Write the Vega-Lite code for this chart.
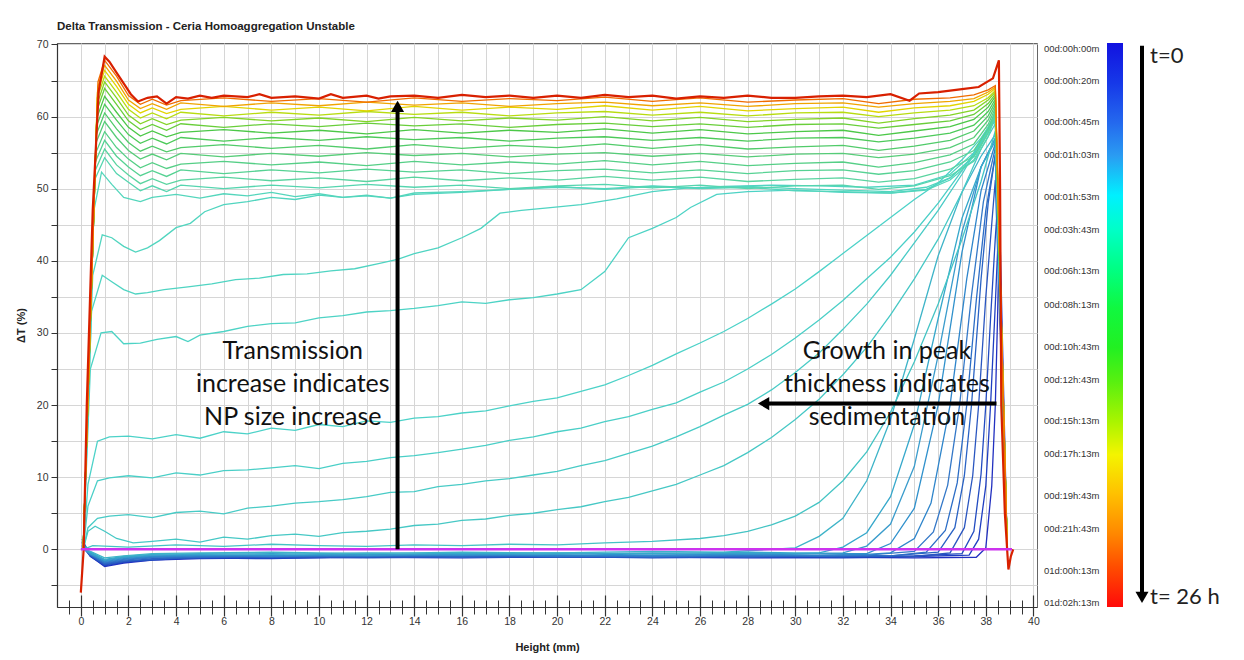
{
"$schema":"https://vega.github.io/schema/vega-lite/v6.json",
"padding":{"left":14,"top":21,"right":0,"bottom":0},
"background":"white",
"title":{"text":"Delta Transmission - Ceria Homoaggregation Unstable","anchor":"start","frame":"group","font":"Liberation Sans, Arial, sans-serif","fontSize":11.5,"fontWeight":"bold","color":"#222","offset":6},
"bounds":"flush",
"spacing":3,
"config":{"view":{"stroke":"#666"},"axis":{"labelFont":"Liberation Sans, Arial, sans-serif","titleFont":"Liberation Sans, Arial, sans-serif","labelColor":"#333","titleColor":"#222","labelFontSize":10.5}},
"datasets":{
"curves":[
{"c":0,"x":0,"y":0},{"c":0,"x":39.1,"y":0},
{"c":1,"x":0.05,"y":1.0},{"c":1,"x":0.4,"y":-0.9},{"c":1,"x":1,"y":-2.4},{"c":1,"x":1.8,"y":-1.9},{"c":1,"x":3,"y":-1.5},{"c":1,"x":5,"y":-1.3},{"c":1,"x":8,"y":-1.2},{"c":1,"x":12,"y":-1.1},{"c":1,"x":16,"y":-1.2},{"c":1,"x":20,"y":-1.0},{"c":1,"x":24,"y":-1.1},{"c":1,"x":28,"y":-1.2},{"c":1,"x":32,"y":-1.1},{"c":1,"x":35,"y":-1.2},{"c":1,"x":37.6,"y":-1.1},{"c":1,"x":38,"y":0.2},{"c":1,"x":38.25,"y":8.8},{"c":1,"x":38.4,"y":20},{"c":1,"x":38.5,"y":33},{"c":1,"x":38.58,"y":46},{"c":1,"x":38.9,"y":0},
{"c":2,"x":0.05,"y":0.6},{"c":2,"x":0.4,"y":-1.0},{"c":2,"x":1,"y":-2.3},{"c":2,"x":1.8,"y":-1.8},{"c":2,"x":3,"y":-1.4},{"c":2,"x":5,"y":-1.2},{"c":2,"x":8,"y":-1.3},{"c":2,"x":12,"y":-1.0},{"c":2,"x":16,"y":-1.1},{"c":2,"x":20,"y":-1.1},{"c":2,"x":24,"y":-0.9},{"c":2,"x":28,"y":-1.1},{"c":2,"x":32,"y":-1.2},{"c":2,"x":35,"y":-1.0},{"c":2,"x":37.3,"y":-0.8},{"c":2,"x":37.7,"y":1.4},{"c":2,"x":38,"y":8.8},{"c":2,"x":38.2,"y":20},{"c":2,"x":38.4,"y":34},{"c":2,"x":38.55,"y":45.5},{"c":2,"x":38.9,"y":0},
{"c":3,"x":0.05,"y":1.4},{"c":3,"x":0.4,"y":-0.8},{"c":3,"x":1,"y":-2.2},{"c":3,"x":1.8,"y":-1.7},{"c":3,"x":3,"y":-1.5},{"c":3,"x":5,"y":-1.1},{"c":3,"x":8,"y":-1.2},{"c":3,"x":12,"y":-1.1},{"c":3,"x":16,"y":-0.9},{"c":3,"x":20,"y":-1.0},{"c":3,"x":24,"y":-1.2},{"c":3,"x":28,"y":-1.0},{"c":3,"x":32,"y":-1.1},{"c":3,"x":35,"y":-0.9},{"c":3,"x":37,"y":-0.6},{"c":3,"x":37.5,"y":2.5},{"c":3,"x":37.8,"y":10.4},{"c":3,"x":38,"y":20},{"c":3,"x":38.2,"y":32},{"c":3,"x":38.4,"y":43.2},{"c":3,"x":38.5,"y":48},{"c":3,"x":38.9,"y":0},
{"c":4,"x":0.05,"y":0.4},{"c":4,"x":0.4,"y":-0.9},{"c":4,"x":1,"y":-2.1},{"c":4,"x":1.8,"y":-1.7},{"c":4,"x":3,"y":-1.3},{"c":4,"x":5,"y":-1.2},{"c":4,"x":8,"y":-1.0},{"c":4,"x":12,"y":-1.2},{"c":4,"x":16,"y":-1.0},{"c":4,"x":20,"y":-1.1},{"c":4,"x":24,"y":-1.0},{"c":4,"x":28,"y":-1.1},{"c":4,"x":32,"y":-0.9},{"c":4,"x":35,"y":-1.0},{"c":4,"x":36.5,"y":-0.5},{"c":4,"x":37.1,"y":3},{"c":4,"x":37.45,"y":10.2},{"c":4,"x":37.7,"y":20},{"c":4,"x":38,"y":35},{"c":4,"x":38.4,"y":51.2},{"c":4,"x":38.9,"y":0},
{"c":5,"x":0.05,"y":0.9},{"c":5,"x":0.4,"y":-0.7},{"c":5,"x":1,"y":-2.0},{"c":5,"x":1.8,"y":-1.6},{"c":5,"x":3,"y":-1.4},{"c":5,"x":5,"y":-1.0},{"c":5,"x":8,"y":-1.1},{"c":5,"x":12,"y":-0.9},{"c":5,"x":16,"y":-1.1},{"c":5,"x":20,"y":-0.9},{"c":5,"x":24,"y":-1.1},{"c":5,"x":28,"y":-0.9},{"c":5,"x":32,"y":-1.0},{"c":5,"x":34,"y":-0.9},{"c":5,"x":36,"y":-0.4},{"c":5,"x":36.7,"y":3},{"c":5,"x":37.1,"y":10.2},{"c":5,"x":37.4,"y":20},{"c":5,"x":37.8,"y":37.4},{"c":5,"x":38.1,"y":48},{"c":5,"x":38.4,"y":54.7},{"c":5,"x":38.9,"y":0},
{"c":6,"x":0.05,"y":0.5},{"c":6,"x":0.4,"y":-0.8},{"c":6,"x":1,"y":-1.9},{"c":6,"x":1.8,"y":-1.5},{"c":6,"x":3,"y":-1.2},{"c":6,"x":5,"y":-1.1},{"c":6,"x":8,"y":-0.9},{"c":6,"x":12,"y":-1.0},{"c":6,"x":16,"y":-0.8},{"c":6,"x":20,"y":-1.0},{"c":6,"x":24,"y":-0.9},{"c":6,"x":28,"y":-1.0},{"c":6,"x":32,"y":-0.8},{"c":6,"x":34,"y":-0.9},{"c":6,"x":35.5,"y":-0.4},{"c":6,"x":36.3,"y":2.6},{"c":6,"x":36.8,"y":9.2},{"c":6,"x":37.2,"y":20},{"c":6,"x":37.6,"y":34.5},{"c":6,"x":38,"y":47},{"c":6,"x":38.4,"y":54.7},{"c":6,"x":38.9,"y":0},
{"c":7,"x":0.05,"y":1.1},{"c":7,"x":0.4,"y":-0.6},{"c":7,"x":1,"y":-1.8},{"c":7,"x":1.8,"y":-1.4},{"c":7,"x":3,"y":-1.1},{"c":7,"x":5,"y":-0.9},{"c":7,"x":8,"y":-1.0},{"c":7,"x":12,"y":-0.8},{"c":7,"x":16,"y":-0.9},{"c":7,"x":20,"y":-0.8},{"c":7,"x":24,"y":-1.0},{"c":7,"x":28,"y":-0.8},{"c":7,"x":31,"y":-0.9},{"c":7,"x":33,"y":-0.8},{"c":7,"x":35,"y":-0.3},{"c":7,"x":35.8,"y":2.4},{"c":7,"x":36.4,"y":8.9},{"c":7,"x":36.9,"y":20},{"c":7,"x":37.4,"y":35.2},{"c":7,"x":37.9,"y":48.2},{"c":7,"x":38.4,"y":55.7},{"c":7,"x":38.9,"y":0},
{"c":8,"x":0.05,"y":0.3},{"c":8,"x":0.4,"y":-0.7},{"c":8,"x":1,"y":-1.7},{"c":8,"x":1.8,"y":-1.3},{"c":8,"x":3,"y":-1.0},{"c":8,"x":5,"y":-0.9},{"c":8,"x":8,"y":-0.8},{"c":8,"x":12,"y":-0.9},{"c":8,"x":16,"y":-0.7},{"c":8,"x":20,"y":-0.9},{"c":8,"x":24,"y":-0.8},{"c":8,"x":28,"y":-0.7},{"c":8,"x":31,"y":-0.8},{"c":8,"x":33,"y":-0.7},{"c":8,"x":34,"y":-0.5},{"c":8,"x":35,"y":1.5},{"c":8,"x":35.7,"y":6.4},{"c":8,"x":36.5,"y":20},{"c":8,"x":37.2,"y":37.5},{"c":8,"x":37.8,"y":49.7},{"c":8,"x":38.4,"y":56.3},{"c":8,"x":38.9,"y":0},
{"c":9,"x":0.05,"y":0.7},{"c":9,"x":0.4,"y":-0.5},{"c":9,"x":1,"y":-1.6},{"c":9,"x":1.8,"y":-1.2},{"c":9,"x":3,"y":-0.9},{"c":9,"x":5,"y":-0.8},{"c":9,"x":8,"y":-0.9},{"c":9,"x":12,"y":-0.7},{"c":9,"x":16,"y":-0.8},{"c":9,"x":20,"y":-0.6},{"c":9,"x":24,"y":-0.8},{"c":9,"x":28,"y":-0.7},{"c":9,"x":31,"y":-0.6},{"c":9,"x":33,"y":-0.6},{"c":9,"x":34,"y":0.8},{"c":9,"x":35,"y":5.7},{"c":9,"x":36,"y":20},{"c":9,"x":37,"y":41.2},{"c":9,"x":37.8,"y":53},{"c":9,"x":38.4,"y":57},{"c":9,"x":38.9,"y":0},
{"c":10,"x":0.05,"y":0.2},{"c":10,"x":0.4,"y":-0.6},{"c":10,"x":1,"y":-1.5},{"c":10,"x":1.8,"y":-1.1},{"c":10,"x":3,"y":-0.8},{"c":10,"x":5,"y":-0.7},{"c":10,"x":8,"y":-0.6},{"c":10,"x":12,"y":-0.8},{"c":10,"x":16,"y":-0.6},{"c":10,"x":20,"y":-0.7},{"c":10,"x":24,"y":-0.5},{"c":10,"x":28,"y":-0.6},{"c":10,"x":30,"y":-0.6},{"c":10,"x":32,"y":-0.5},{"c":10,"x":33,"y":0.45},{"c":10,"x":34,"y":3.5},{"c":10,"x":35,"y":11.5},{"c":10,"x":36,"y":26.9},{"c":10,"x":37,"y":44},{"c":10,"x":37.8,"y":53},{"c":10,"x":38.4,"y":57},{"c":10,"x":38.9,"y":0},
{"c":11,"x":0.05,"y":0.5},{"c":11,"x":0.4,"y":-0.4},{"c":11,"x":1,"y":-1.4},{"c":11,"x":1.8,"y":-1.0},{"c":11,"x":3,"y":-0.7},{"c":11,"x":5,"y":-0.6},{"c":11,"x":8,"y":-0.7},{"c":11,"x":12,"y":-0.5},{"c":11,"x":16,"y":-0.6},{"c":11,"x":20,"y":-0.5},{"c":11,"x":24,"y":-0.6},{"c":11,"x":28,"y":-0.4},{"c":11,"x":30,"y":-0.5},{"c":11,"x":31,"y":-0.5},{"c":11,"x":32,"y":0.3},{"c":11,"x":33,"y":2.3},{"c":11,"x":34,"y":7.3},{"c":11,"x":35,"y":17.3},{"c":11,"x":36,"y":32},{"c":11,"x":37,"y":45.9},{"c":11,"x":37.8,"y":53},{"c":11,"x":38.4,"y":56.6},{"c":11,"x":38.9,"y":0},
{"c":12,"x":0.05,"y":0.3},{"c":12,"x":0.4,"y":-0.3},{"c":12,"x":1,"y":-1.2},{"c":12,"x":1.8,"y":-0.9},{"c":12,"x":3,"y":-0.6},{"c":12,"x":5,"y":-0.5},{"c":12,"x":8,"y":-0.4},{"c":12,"x":12,"y":-0.6},{"c":12,"x":16,"y":-0.4},{"c":12,"x":20,"y":-0.5},{"c":12,"x":24,"y":-0.3},{"c":12,"x":27,"y":-0.4},{"c":12,"x":28,"y":-0.2},{"c":12,"x":30,"y":0.2},{"c":12,"x":31,"y":1.8},{"c":12,"x":32,"y":4.3},{"c":12,"x":33,"y":9.5},{"c":12,"x":34,"y":18},{"c":12,"x":35,"y":29.2},{"c":12,"x":36,"y":40.7},{"c":12,"x":37,"y":49.5},{"c":12,"x":37.8,"y":54.5},{"c":12,"x":38.4,"y":57.5},{"c":12,"x":38.9,"y":0},
{"c":13,"x":0.1,"y":0},{"c":13,"x":0.5,"y":0.5},{"c":13,"x":2,"y":0.3},{"c":13,"x":4,"y":0.6},{"c":13,"x":6,"y":0.4},{"c":13,"x":8,"y":0.7},{"c":13,"x":10,"y":0.5},{"c":13,"x":12,"y":0.4},{"c":13,"x":14,"y":0.6},{"c":13,"x":16,"y":0.5},{"c":13,"x":18,"y":0.7},{"c":13,"x":20,"y":0.6},{"c":13,"x":22,"y":0.9},{"c":13,"x":24,"y":1.1},{"c":13,"x":26,"y":1.5},{"c":13,"x":27,"y":1.9},{"c":13,"x":28,"y":2.5},{"c":13,"x":29,"y":3.4},{"c":13,"x":30,"y":4.6},{"c":13,"x":31,"y":6.5},{"c":13,"x":32,"y":9.5},{"c":13,"x":33,"y":13.5},{"c":13,"x":34,"y":19},{"c":13,"x":35,"y":26},{"c":13,"x":36,"y":34},{"c":13,"x":37,"y":43},{"c":13,"x":37.8,"y":51},{"c":13,"x":38.4,"y":58},{"c":13,"x":38.9,"y":0},
{"c":14,"x":0.1,"y":0},{"c":14,"x":0.3,"y":2.5},{"c":14,"x":0.6,"y":3.2},{"c":14,"x":1,"y":2.5},{"c":14,"x":1.5,"y":1.5},{"c":14,"x":2.2,"y":0.9},{"c":14,"x":3,"y":1.1},{"c":14,"x":4,"y":1.4},{"c":14,"x":5,"y":1.0},{"c":14,"x":6,"y":1.7},{"c":14,"x":7,"y":1.4},{"c":14,"x":8,"y":1.9},{"c":14,"x":9,"y":2.1},{"c":14,"x":10,"y":1.8},{"c":14,"x":11,"y":2.3},{"c":14,"x":12,"y":2.5},{"c":14,"x":13,"y":2.8},{"c":14,"x":14,"y":3.3},{"c":14,"x":15,"y":3.5},{"c":14,"x":16,"y":4.0},{"c":14,"x":17,"y":4.2},{"c":14,"x":18,"y":4.7},{"c":14,"x":19,"y":5},{"c":14,"x":20,"y":5.5},{"c":14,"x":21,"y":5.9},{"c":14,"x":22,"y":6.6},{"c":14,"x":23,"y":7.2},{"c":14,"x":24,"y":8.1},{"c":14,"x":25,"y":9},{"c":14,"x":26,"y":10.3},{"c":14,"x":27,"y":11.6},{"c":14,"x":28,"y":13.4},{"c":14,"x":29,"y":15.5},{"c":14,"x":30,"y":18},{"c":14,"x":31,"y":20.8},{"c":14,"x":32,"y":24.2},{"c":14,"x":33,"y":28},{"c":14,"x":34,"y":32.5},{"c":14,"x":35,"y":37.5},{"c":14,"x":36,"y":43},{"c":14,"x":37,"y":49.5},{"c":14,"x":37.8,"y":55.5},{"c":14,"x":38.4,"y":59},{"c":14,"x":38.9,"y":0},
{"c":15,"x":0.1,"y":0},{"c":15,"x":0.3,"y":3},{"c":15,"x":0.7,"y":4.3},{"c":15,"x":1.2,"y":4.6},{"c":15,"x":2,"y":4.8},{"c":15,"x":3,"y":4.4},{"c":15,"x":4,"y":5.1},{"c":15,"x":5,"y":5.3},{"c":15,"x":6,"y":4.9},{"c":15,"x":7,"y":5.7},{"c":15,"x":8,"y":6.0},{"c":15,"x":9,"y":6.4},{"c":15,"x":10,"y":6.6},{"c":15,"x":11,"y":6.9},{"c":15,"x":12,"y":7.3},{"c":15,"x":13,"y":7.9},{"c":15,"x":14,"y":8.0},{"c":15,"x":15,"y":8.7},{"c":15,"x":16,"y":9.0},{"c":15,"x":17,"y":9.5},{"c":15,"x":18,"y":9.8},{"c":15,"x":19,"y":10.3},{"c":15,"x":20,"y":10.8},{"c":15,"x":21,"y":11.6},{"c":15,"x":22,"y":12.3},{"c":15,"x":23,"y":13.3},{"c":15,"x":24,"y":14.3},{"c":15,"x":25,"y":15.6},{"c":15,"x":26,"y":17},{"c":15,"x":27,"y":18.6},{"c":15,"x":28,"y":20.1},{"c":15,"x":29,"y":22.1},{"c":15,"x":30,"y":24.5},{"c":15,"x":31,"y":27.2},{"c":15,"x":32,"y":30.5},{"c":15,"x":33,"y":34},{"c":15,"x":34,"y":38},{"c":15,"x":35,"y":42.5},{"c":15,"x":36,"y":47},{"c":15,"x":37,"y":52},{"c":15,"x":37.8,"y":56.5},{"c":15,"x":38.4,"y":59.5},{"c":15,"x":38.9,"y":0},
{"c":16,"x":0.1,"y":0},{"c":16,"x":0.3,"y":6},{"c":16,"x":0.7,"y":9.5},{"c":16,"x":1.2,"y":9.9},{"c":16,"x":2,"y":10.2},{"c":16,"x":3,"y":9.9},{"c":16,"x":4,"y":10.6},{"c":16,"x":5,"y":10.3},{"c":16,"x":6,"y":10.9},{"c":16,"x":7,"y":11.0},{"c":16,"x":8,"y":11.3},{"c":16,"x":9,"y":11.6},{"c":16,"x":10,"y":11.2},{"c":16,"x":11,"y":11.9},{"c":16,"x":12,"y":12.2},{"c":16,"x":13,"y":12.7},{"c":16,"x":14,"y":13.0},{"c":16,"x":15,"y":13.4},{"c":16,"x":16,"y":13.9},{"c":16,"x":17,"y":14.4},{"c":16,"x":18,"y":15.1},{"c":16,"x":19,"y":15.6},{"c":16,"x":20,"y":16.3},{"c":16,"x":21,"y":16.8},{"c":16,"x":22,"y":17.7},{"c":16,"x":23,"y":18.4},{"c":16,"x":24,"y":19.4},{"c":16,"x":25,"y":20.3},{"c":16,"x":26,"y":21.8},{"c":16,"x":27,"y":23.2},{"c":16,"x":28,"y":25},{"c":16,"x":29,"y":27},{"c":16,"x":30,"y":29.3},{"c":16,"x":31,"y":31.8},{"c":16,"x":32,"y":34.5},{"c":16,"x":33,"y":37.5},{"c":16,"x":34,"y":40.5},{"c":16,"x":35,"y":44},{"c":16,"x":36,"y":48},{"c":16,"x":37,"y":52.5},{"c":16,"x":37.8,"y":56.5},{"c":16,"x":38.4,"y":59.5},{"c":16,"x":38.9,"y":0},
{"c":17,"x":0.1,"y":0},{"c":17,"x":0.3,"y":9},{"c":17,"x":0.7,"y":15},{"c":17,"x":1.2,"y":15.6},{"c":17,"x":2,"y":15.7},{"c":17,"x":3,"y":15.3},{"c":17,"x":4,"y":15.9},{"c":17,"x":5,"y":15.4},{"c":17,"x":6,"y":16.3},{"c":17,"x":7,"y":16},{"c":17,"x":8,"y":16.8},{"c":17,"x":9,"y":16.5},{"c":17,"x":10,"y":17.3},{"c":17,"x":11,"y":17},{"c":17,"x":12,"y":17.8},{"c":17,"x":13,"y":17.6},{"c":17,"x":14,"y":18.2},{"c":17,"x":15,"y":18.4},{"c":17,"x":16,"y":18.9},{"c":17,"x":17,"y":19.2},{"c":17,"x":18,"y":19.9},{"c":17,"x":19,"y":20.5},{"c":17,"x":20,"y":21},{"c":17,"x":21,"y":21.9},{"c":17,"x":22,"y":22.8},{"c":17,"x":23,"y":24.1},{"c":17,"x":24,"y":25.5},{"c":17,"x":25,"y":27.1},{"c":17,"x":26,"y":28.6},{"c":17,"x":27,"y":30.2},{"c":17,"x":28,"y":32},{"c":17,"x":29,"y":34},{"c":17,"x":30,"y":36.1},{"c":17,"x":31,"y":38.5},{"c":17,"x":32,"y":41},{"c":17,"x":33,"y":43.5},{"c":17,"x":34,"y":46},{"c":17,"x":35,"y":48.5},{"c":17,"x":36,"y":50.8},{"c":17,"x":37,"y":54},{"c":17,"x":37.8,"y":57},{"c":17,"x":38.4,"y":60},{"c":17,"x":38.9,"y":0},
{"c":18,"x":0.1,"y":0},{"c":18,"x":0.4,"y":25},{"c":18,"x":0.85,"y":30},{"c":18,"x":1.3,"y":30.2},{"c":18,"x":1.8,"y":28.5},{"c":18,"x":2.5,"y":28.6},{"c":18,"x":3.2,"y":29.1},{"c":18,"x":4,"y":29.5},{"c":18,"x":4.5,"y":28.8},{"c":18,"x":5,"y":29.7},{"c":18,"x":6,"y":30.2},{"c":18,"x":7,"y":30.9},{"c":18,"x":8,"y":31.3},{"c":18,"x":9,"y":31.4},{"c":18,"x":10,"y":32.1},{"c":18,"x":11,"y":32.4},{"c":18,"x":12,"y":32.9},{"c":18,"x":13,"y":33.1},{"c":18,"x":14,"y":33.4},{"c":18,"x":15,"y":33.8},{"c":18,"x":16,"y":34.3},{"c":18,"x":17,"y":34.1},{"c":18,"x":18,"y":34.6},{"c":18,"x":19,"y":34.9},{"c":18,"x":20,"y":35.4},{"c":18,"x":21,"y":36},{"c":18,"x":22,"y":38.5},{"c":18,"x":23,"y":43.2},{"c":18,"x":24,"y":44.5},{"c":18,"x":25,"y":46},{"c":18,"x":25.6,"y":47.4},{"c":18,"x":26.7,"y":49.2},{"c":18,"x":28,"y":49.6},{"c":18,"x":30,"y":49.8},{"c":18,"x":32,"y":49.5},{"c":18,"x":34,"y":49.4},{"c":18,"x":35.5,"y":49.9},{"c":18,"x":36.5,"y":51.5},{"c":18,"x":37.5,"y":54.5},{"c":18,"x":38.1,"y":58},{"c":18,"x":38.4,"y":60},{"c":18,"x":38.9,"y":0},
{"c":19,"x":0.1,"y":0},{"c":19,"x":0.45,"y":33},{"c":19,"x":0.9,"y":38},{"c":19,"x":1.3,"y":37.1},{"c":19,"x":1.8,"y":36},{"c":19,"x":2.3,"y":35.4},{"c":19,"x":2.8,"y":35.6},{"c":19,"x":3.5,"y":36},{"c":19,"x":4.5,"y":36.4},{"c":19,"x":5.5,"y":36.8},{"c":19,"x":6.5,"y":37.4},{"c":19,"x":7.5,"y":37.6},{"c":19,"x":8.5,"y":38.1},{"c":19,"x":9.5,"y":38.2},{"c":19,"x":10.5,"y":38.6},{"c":19,"x":11.5,"y":38.9},{"c":19,"x":12.5,"y":39.6},{"c":19,"x":13.3,"y":40.2},{"c":19,"x":14,"y":41},{"c":19,"x":15,"y":41.8},{"c":19,"x":16,"y":43.2},{"c":19,"x":16.8,"y":44.5},{"c":19,"x":17.6,"y":46.6},{"c":19,"x":18.5,"y":47},{"c":19,"x":19.5,"y":47.3},{"c":19,"x":21,"y":47.8},{"c":19,"x":22.5,"y":48.6},{"c":19,"x":24,"y":49.6},{"c":19,"x":25.5,"y":50.1},{"c":19,"x":27,"y":50.3},{"c":19,"x":29,"y":50.5},{"c":19,"x":31,"y":50.4},{"c":19,"x":33,"y":50.2},{"c":19,"x":35,"y":50.5},{"c":19,"x":36.5,"y":52},{"c":19,"x":37.5,"y":55},{"c":19,"x":38.1,"y":58.5},{"c":19,"x":38.4,"y":60.5},{"c":19,"x":38.9,"y":0},
{"c":20,"x":0.1,"y":0},{"c":20,"x":0.5,"y":38},{"c":20,"x":0.9,"y":43.6},{"c":20,"x":1.3,"y":43.2},{"c":20,"x":1.8,"y":42},{"c":20,"x":2.3,"y":41.2},{"c":20,"x":2.8,"y":41.8},{"c":20,"x":3.3,"y":42.8},{"c":20,"x":4,"y":44.6},{"c":20,"x":4.6,"y":45.2},{"c":20,"x":5.2,"y":46.8},{"c":20,"x":6,"y":47.8},{"c":20,"x":7,"y":48.2},{"c":20,"x":8,"y":48.8},{"c":20,"x":9,"y":48.5},{"c":20,"x":10,"y":49.1},{"c":20,"x":11,"y":48.8},{"c":20,"x":12,"y":49.0},{"c":20,"x":13,"y":48.7},{"c":20,"x":14,"y":49.2},{"c":20,"x":16,"y":49.5},{"c":20,"x":18,"y":49.9},{"c":20,"x":20,"y":50.2},{"c":20,"x":22,"y":50},{"c":20,"x":24,"y":50.4},{"c":20,"x":26,"y":50.1},{"c":20,"x":28,"y":50.3},{"c":20,"x":30,"y":50},{"c":20,"x":32,"y":49.8},{"c":20,"x":34,"y":49.6},{"c":20,"x":35.5,"y":50.2},{"c":20,"x":36.5,"y":51.5},{"c":20,"x":37.5,"y":54.5},{"c":20,"x":38.1,"y":58},{"c":20,"x":38.4,"y":60},{"c":20,"x":38.9,"y":0},
{"c":21,"x":0.1,"y":0},{"c":21,"x":0.55,"y":47},{"c":21,"x":0.87,"y":52.3},{"c":21,"x":1.3,"y":50.6},{"c":21,"x":1.8,"y":48.8},{"c":21,"x":2.5,"y":48.2},{"c":21,"x":3,"y":48.8},{"c":21,"x":4,"y":49.2},{"c":21,"x":5,"y":48.7},{"c":21,"x":6,"y":49.3},{"c":21,"x":7,"y":49.0},{"c":21,"x":8,"y":49.5},{"c":21,"x":9,"y":48.9},{"c":21,"x":10,"y":49.3},{"c":21,"x":11,"y":48.8},{"c":21,"x":12,"y":49.1},{"c":21,"x":13,"y":48.7},{"c":21,"x":14,"y":49.4},{"c":21,"x":16,"y":49.6},{"c":21,"x":18,"y":49.9},{"c":21,"x":20,"y":50.3},{"c":21,"x":22,"y":49.9},{"c":21,"x":24,"y":50.3},{"c":21,"x":26,"y":50.0},{"c":21,"x":28,"y":50.2},{"c":21,"x":30,"y":49.7},{"c":21,"x":32,"y":49.6},{"c":21,"x":34,"y":49.4},{"c":21,"x":35.5,"y":49.8},{"c":21,"x":36.5,"y":51.2},{"c":21,"x":37.5,"y":54},{"c":21,"x":38.1,"y":57.8},{"c":21,"x":38.4,"y":60},{"c":21,"x":38.9,"y":0},
{"c":22,"x":0.1,"y":0},{"c":22,"x":0.59,"y":51.3},{"c":22,"x":1.0,"y":54.3},{"c":22,"x":1.5,"y":52.1},{"c":22,"x":2.0,"y":50.9},{"c":22,"x":2.5,"y":49.7},{"c":22,"x":3.0,"y":50.4},{"c":22,"x":3.6,"y":49.6},{"c":22,"x":4.2,"y":50.5},{"c":22,"x":6,"y":50.0},{"c":22,"x":8,"y":50.5},{"c":22,"x":10,"y":50.1},{"c":22,"x":12,"y":50.6},{"c":22,"x":14,"y":50.2},{"c":22,"x":16,"y":50.5},{"c":22,"x":18,"y":50.0},{"c":22,"x":20,"y":50.4},{"c":22,"x":22,"y":50.6},{"c":22,"x":24,"y":50.1},{"c":22,"x":26,"y":50.5},{"c":22,"x":28,"y":50.0},{"c":22,"x":30,"y":50.4},{"c":22,"x":32,"y":50.5},{"c":22,"x":33.5,"y":49.9},{"c":22,"x":35,"y":50.4},{"c":22,"x":36.5,"y":51.8},{"c":22,"x":37.5,"y":53.8},{"c":22,"x":38.1,"y":57.2},{"c":22,"x":38.4,"y":60.1},{"c":22,"x":38.9,"y":0},
{"c":23,"x":0.1,"y":0},{"c":23,"x":0.6,"y":52.5},{"c":23,"x":1.0,"y":55.5},{"c":23,"x":1.5,"y":53.3},{"c":23,"x":2.0,"y":51.9},{"c":23,"x":2.5,"y":50.7},{"c":23,"x":3.0,"y":51.4},{"c":23,"x":3.6,"y":50.6},{"c":23,"x":4.2,"y":51.2},{"c":23,"x":6,"y":51.6},{"c":23,"x":8,"y":51.1},{"c":23,"x":10,"y":51.5},{"c":23,"x":12,"y":51.0},{"c":23,"x":14,"y":51.6},{"c":23,"x":16,"y":51.1},{"c":23,"x":18,"y":51.5},{"c":23,"x":20,"y":51.2},{"c":23,"x":22,"y":51.7},{"c":23,"x":24,"y":51.2},{"c":23,"x":26,"y":51.6},{"c":23,"x":28,"y":51.0},{"c":23,"x":30,"y":51.3},{"c":23,"x":32,"y":51.5},{"c":23,"x":33.5,"y":50.9},{"c":23,"x":35,"y":51.4},{"c":23,"x":36.5,"y":52.7},{"c":23,"x":37.5,"y":54.5},{"c":23,"x":38.1,"y":57.7},{"c":23,"x":38.4,"y":60.5},{"c":23,"x":38.9,"y":0},
{"c":24,"x":0.1,"y":0},{"c":24,"x":0.61,"y":53.7},{"c":24,"x":1.0,"y":56.7},{"c":24,"x":1.5,"y":54.5},{"c":24,"x":2.0,"y":53.0},{"c":24,"x":2.5,"y":51.8},{"c":24,"x":3.0,"y":52.5},{"c":24,"x":3.6,"y":51.7},{"c":24,"x":4.2,"y":52.6},{"c":24,"x":6,"y":52.1},{"c":24,"x":8,"y":52.6},{"c":24,"x":10,"y":52.2},{"c":24,"x":12,"y":52.7},{"c":24,"x":14,"y":52.3},{"c":24,"x":16,"y":52.6},{"c":24,"x":18,"y":52.1},{"c":24,"x":20,"y":52.5},{"c":24,"x":22,"y":52.7},{"c":24,"x":24,"y":52.2},{"c":24,"x":26,"y":52.6},{"c":24,"x":28,"y":52.1},{"c":24,"x":30,"y":52.5},{"c":24,"x":32,"y":52.6},{"c":24,"x":33.5,"y":52.0},{"c":24,"x":35,"y":52.5},{"c":24,"x":36.5,"y":53.7},{"c":24,"x":37.5,"y":55.3},{"c":24,"x":38.1,"y":58.3},{"c":24,"x":38.4,"y":60.8},{"c":24,"x":38.9,"y":0},
{"c":25,"x":0.1,"y":0},{"c":25,"x":0.62,"y":54.9},{"c":25,"x":1.0,"y":57.9},{"c":25,"x":1.5,"y":55.7},{"c":25,"x":2.0,"y":54.1},{"c":25,"x":2.5,"y":52.9},{"c":25,"x":3.0,"y":53.6},{"c":25,"x":3.6,"y":52.8},{"c":25,"x":4.2,"y":53.4},{"c":25,"x":6,"y":53.8},{"c":25,"x":8,"y":53.3},{"c":25,"x":10,"y":53.7},{"c":25,"x":12,"y":53.2},{"c":25,"x":14,"y":53.8},{"c":25,"x":16,"y":53.3},{"c":25,"x":18,"y":53.7},{"c":25,"x":20,"y":53.4},{"c":25,"x":22,"y":53.9},{"c":25,"x":24,"y":53.3},{"c":25,"x":26,"y":53.8},{"c":25,"x":28,"y":53.2},{"c":25,"x":30,"y":53.5},{"c":25,"x":32,"y":53.7},{"c":25,"x":33.5,"y":53.0},{"c":25,"x":35,"y":53.6},{"c":25,"x":36.5,"y":54.7},{"c":25,"x":37.5,"y":56.2},{"c":25,"x":38.1,"y":58.9},{"c":25,"x":38.4,"y":61.2},{"c":25,"x":38.9,"y":0},
{"c":26,"x":0.1,"y":0},{"c":26,"x":0.63,"y":56.3},{"c":26,"x":1.0,"y":59.3},{"c":26,"x":1.5,"y":57.1},{"c":26,"x":2.0,"y":55.3},{"c":26,"x":2.5,"y":54.1},{"c":26,"x":3.0,"y":54.8},{"c":26,"x":3.6,"y":54.0},{"c":26,"x":4.2,"y":54.9},{"c":26,"x":6,"y":54.4},{"c":26,"x":8,"y":54.9},{"c":26,"x":10,"y":54.5},{"c":26,"x":12,"y":55.0},{"c":26,"x":14,"y":54.6},{"c":26,"x":16,"y":54.9},{"c":26,"x":18,"y":54.4},{"c":26,"x":20,"y":54.8},{"c":26,"x":22,"y":55.0},{"c":26,"x":24,"y":54.5},{"c":26,"x":26,"y":54.9},{"c":26,"x":28,"y":54.4},{"c":26,"x":30,"y":54.8},{"c":26,"x":32,"y":54.9},{"c":26,"x":33.5,"y":54.3},{"c":26,"x":35,"y":54.8},{"c":26,"x":36.5,"y":55.7},{"c":26,"x":37.5,"y":57.1},{"c":26,"x":38.1,"y":59.5},{"c":26,"x":38.4,"y":61.6},{"c":26,"x":38.9,"y":0},
{"c":27,"x":0.1,"y":0},{"c":27,"x":0.65,"y":57.5},{"c":27,"x":1.0,"y":60.5},{"c":27,"x":1.5,"y":58.3},{"c":27,"x":2.0,"y":56.4},{"c":27,"x":2.5,"y":55.2},{"c":27,"x":3.0,"y":55.9},{"c":27,"x":3.6,"y":55.1},{"c":27,"x":4.2,"y":55.7},{"c":27,"x":6,"y":56.1},{"c":27,"x":8,"y":55.6},{"c":27,"x":10,"y":56.0},{"c":27,"x":12,"y":55.5},{"c":27,"x":14,"y":56.1},{"c":27,"x":16,"y":55.6},{"c":27,"x":18,"y":56.0},{"c":27,"x":20,"y":55.7},{"c":27,"x":22,"y":56.2},{"c":27,"x":24,"y":55.6},{"c":27,"x":26,"y":56.1},{"c":27,"x":28,"y":55.5},{"c":27,"x":30,"y":55.8},{"c":27,"x":32,"y":56.0},{"c":27,"x":33.5,"y":55.3},{"c":27,"x":35,"y":55.9},{"c":27,"x":36.5,"y":56.7},{"c":27,"x":37.5,"y":58.0},{"c":27,"x":38.1,"y":60.1},{"c":27,"x":38.4,"y":62.0},{"c":27,"x":38.9,"y":0},
{"c":28,"x":0.1,"y":0},{"c":28,"x":0.66,"y":58.7},{"c":28,"x":1.0,"y":61.7},{"c":28,"x":1.5,"y":59.5},{"c":28,"x":2.0,"y":57.5},{"c":28,"x":2.5,"y":56.3},{"c":28,"x":3.0,"y":57.0},{"c":28,"x":3.6,"y":56.2},{"c":28,"x":4.2,"y":57.1},{"c":28,"x":6,"y":56.6},{"c":28,"x":8,"y":57.1},{"c":28,"x":10,"y":56.7},{"c":28,"x":12,"y":57.2},{"c":28,"x":14,"y":56.8},{"c":28,"x":16,"y":57.1},{"c":28,"x":18,"y":56.6},{"c":28,"x":20,"y":57.0},{"c":28,"x":22,"y":57.2},{"c":28,"x":24,"y":56.7},{"c":28,"x":26,"y":57.1},{"c":28,"x":28,"y":56.6},{"c":28,"x":30,"y":57.0},{"c":28,"x":32,"y":57.1},{"c":28,"x":33.5,"y":56.5},{"c":28,"x":35,"y":57.0},{"c":28,"x":36.5,"y":57.7},{"c":28,"x":37.5,"y":58.8},{"c":28,"x":38.1,"y":60.7},{"c":28,"x":38.4,"y":62.4},{"c":28,"x":38.9,"y":0},
{"c":29,"x":0.1,"y":0},{"c":29,"x":0.67,"y":59.8},{"c":29,"x":1.0,"y":62.8},{"c":29,"x":1.5,"y":60.6},{"c":29,"x":2.0,"y":58.5},{"c":29,"x":2.5,"y":57.3},{"c":29,"x":3.0,"y":58.0},{"c":29,"x":3.6,"y":57.2},{"c":29,"x":4.2,"y":57.8},{"c":29,"x":6,"y":58.2},{"c":29,"x":8,"y":57.7},{"c":29,"x":10,"y":58.1},{"c":29,"x":12,"y":57.6},{"c":29,"x":14,"y":58.2},{"c":29,"x":16,"y":57.7},{"c":29,"x":18,"y":58.1},{"c":29,"x":20,"y":57.8},{"c":29,"x":22,"y":58.3},{"c":29,"x":24,"y":57.7},{"c":29,"x":26,"y":58.2},{"c":29,"x":28,"y":57.6},{"c":29,"x":30,"y":57.9},{"c":29,"x":32,"y":58.1},{"c":29,"x":33.5,"y":57.4},{"c":29,"x":35,"y":58.0},{"c":29,"x":36.5,"y":58.6},{"c":29,"x":37.5,"y":59.6},{"c":29,"x":38.1,"y":61.3},{"c":29,"x":38.4,"y":62.8},{"c":29,"x":38.9,"y":0},
{"c":30,"x":0.1,"y":0},{"c":30,"x":0.68,"y":60.9},{"c":30,"x":1.0,"y":63.9},{"c":30,"x":1.5,"y":61.7},{"c":30,"x":2.0,"y":59.4},{"c":30,"x":2.5,"y":58.2},{"c":30,"x":3.0,"y":58.9},{"c":30,"x":3.6,"y":58.1},{"c":30,"x":4.2,"y":59.0},{"c":30,"x":6,"y":58.5},{"c":30,"x":8,"y":59.0},{"c":30,"x":10,"y":58.6},{"c":30,"x":12,"y":59.1},{"c":30,"x":14,"y":58.7},{"c":30,"x":16,"y":59.0},{"c":30,"x":18,"y":58.5},{"c":30,"x":20,"y":58.9},{"c":30,"x":22,"y":59.1},{"c":30,"x":24,"y":58.6},{"c":30,"x":26,"y":59.0},{"c":30,"x":28,"y":58.5},{"c":30,"x":30,"y":58.9},{"c":30,"x":32,"y":59.0},{"c":30,"x":33.5,"y":58.4},{"c":30,"x":35,"y":58.9},{"c":30,"x":36.5,"y":59.4},{"c":30,"x":37.5,"y":60.3},{"c":30,"x":38.1,"y":61.8},{"c":30,"x":38.4,"y":63.1},{"c":30,"x":38.9,"y":0},
{"c":31,"x":0.1,"y":0},{"c":31,"x":0.69,"y":61.8},{"c":31,"x":1.0,"y":64.8},{"c":31,"x":1.5,"y":62.6},{"c":31,"x":2.0,"y":60.2},{"c":31,"x":2.5,"y":59.0},{"c":31,"x":3.0,"y":59.7},{"c":31,"x":3.6,"y":58.9},{"c":31,"x":4.2,"y":59.5},{"c":31,"x":6,"y":59.9},{"c":31,"x":8,"y":59.4},{"c":31,"x":10,"y":59.8},{"c":31,"x":12,"y":59.3},{"c":31,"x":14,"y":59.9},{"c":31,"x":16,"y":59.4},{"c":31,"x":18,"y":59.8},{"c":31,"x":20,"y":59.5},{"c":31,"x":22,"y":60.0},{"c":31,"x":24,"y":59.4},{"c":31,"x":26,"y":59.9},{"c":31,"x":28,"y":59.3},{"c":31,"x":30,"y":59.6},{"c":31,"x":32,"y":59.8},{"c":31,"x":33.5,"y":59.1},{"c":31,"x":35,"y":59.7},{"c":31,"x":36.5,"y":60.2},{"c":31,"x":37.5,"y":60.9},{"c":31,"x":38.1,"y":62.3},{"c":31,"x":38.4,"y":63.4},{"c":31,"x":38.9,"y":0},
{"c":32,"x":0.1,"y":0},{"c":32,"x":0.69,"y":62.6},{"c":32,"x":1.0,"y":65.6},{"c":32,"x":1.5,"y":63.4},{"c":32,"x":2.0,"y":61.0},{"c":32,"x":2.5,"y":59.8},{"c":32,"x":3.0,"y":60.5},{"c":32,"x":3.6,"y":59.7},{"c":32,"x":4.2,"y":60.6},{"c":32,"x":6,"y":60.1},{"c":32,"x":8,"y":60.6},{"c":32,"x":10,"y":60.2},{"c":32,"x":12,"y":60.7},{"c":32,"x":14,"y":60.3},{"c":32,"x":16,"y":60.6},{"c":32,"x":18,"y":60.1},{"c":32,"x":20,"y":60.5},{"c":32,"x":22,"y":60.7},{"c":32,"x":24,"y":60.2},{"c":32,"x":26,"y":60.6},{"c":32,"x":28,"y":60.1},{"c":32,"x":30,"y":60.5},{"c":32,"x":32,"y":60.6},{"c":32,"x":33.5,"y":60.0},{"c":32,"x":35,"y":60.5},{"c":32,"x":36.5,"y":60.9},{"c":32,"x":37.5,"y":61.5},{"c":32,"x":38.1,"y":62.6},{"c":32,"x":38.4,"y":63.6},{"c":32,"x":38.9,"y":0},
{"c":33,"x":0.1,"y":0},{"c":33,"x":0.7,"y":63.4},{"c":33,"x":1.0,"y":66.4},{"c":33,"x":1.5,"y":64.2},{"c":33,"x":2.0,"y":61.7},{"c":33,"x":2.5,"y":60.5},{"c":33,"x":3.0,"y":61.2},{"c":33,"x":3.6,"y":60.4},{"c":33,"x":4.2,"y":61.0},{"c":33,"x":6,"y":61.4},{"c":33,"x":8,"y":60.9},{"c":33,"x":10,"y":61.3},{"c":33,"x":12,"y":60.8},{"c":33,"x":14,"y":61.4},{"c":33,"x":16,"y":60.9},{"c":33,"x":18,"y":61.3},{"c":33,"x":20,"y":61.0},{"c":33,"x":22,"y":61.5},{"c":33,"x":24,"y":60.9},{"c":33,"x":26,"y":61.4},{"c":33,"x":28,"y":60.8},{"c":33,"x":30,"y":61.1},{"c":33,"x":32,"y":61.3},{"c":33,"x":33.5,"y":60.6},{"c":33,"x":35,"y":61.2},{"c":33,"x":36.5,"y":61.5},{"c":33,"x":37.5,"y":62.1},{"c":33,"x":38.1,"y":63.1},{"c":33,"x":38.4,"y":63.9},{"c":33,"x":38.9,"y":0},
{"c":34,"x":0.1,"y":0},{"c":34,"x":0.71,"y":64.1},{"c":34,"x":1.0,"y":67.1},{"c":34,"x":1.5,"y":64.9},{"c":34,"x":2.0,"y":62.3},{"c":34,"x":2.5,"y":61.1},{"c":34,"x":3.0,"y":61.8},{"c":34,"x":3.6,"y":61.0},{"c":34,"x":4.2,"y":61.9},{"c":34,"x":6,"y":61.4},{"c":34,"x":8,"y":61.9},{"c":34,"x":10,"y":61.5},{"c":34,"x":12,"y":62.0},{"c":34,"x":14,"y":61.6},{"c":34,"x":16,"y":61.9},{"c":34,"x":18,"y":61.4},{"c":34,"x":20,"y":61.8},{"c":34,"x":22,"y":62.0},{"c":34,"x":24,"y":61.5},{"c":34,"x":26,"y":61.9},{"c":34,"x":28,"y":61.4},{"c":34,"x":30,"y":61.8},{"c":34,"x":32,"y":61.9},{"c":34,"x":33.5,"y":61.3},{"c":34,"x":35,"y":61.8},{"c":34,"x":36.5,"y":62.1},{"c":34,"x":37.5,"y":62.5},{"c":34,"x":38.1,"y":63.4},{"c":34,"x":38.4,"y":64.1},{"c":34,"x":38.9,"y":0},
{"c":35,"x":0.1,"y":0},{"c":35,"x":0.72,"y":64.8},{"c":35,"x":1.0,"y":67.8},{"c":35,"x":1.5,"y":65.6},{"c":35,"x":2.0,"y":62.9},{"c":35,"x":2.5,"y":61.7},{"c":35,"x":3.0,"y":62.4},{"c":35,"x":3.6,"y":61.6},{"c":35,"x":4.2,"y":62.2},{"c":35,"x":6,"y":62.6},{"c":35,"x":8,"y":62.1},{"c":35,"x":10,"y":62.5},{"c":35,"x":12,"y":62.0},{"c":35,"x":14,"y":62.6},{"c":35,"x":16,"y":62.1},{"c":35,"x":18,"y":62.5},{"c":35,"x":20,"y":62.2},{"c":35,"x":22,"y":62.7},{"c":35,"x":24,"y":62.1},{"c":35,"x":26,"y":62.6},{"c":35,"x":28,"y":62.0},{"c":35,"x":30,"y":62.3},{"c":35,"x":32,"y":62.5},{"c":35,"x":33.5,"y":61.8},{"c":35,"x":35,"y":62.4},{"c":35,"x":36.5,"y":62.6},{"c":35,"x":37.5,"y":63.0},{"c":35,"x":38.1,"y":63.7},{"c":35,"x":38.4,"y":64.3},{"c":35,"x":38.9,"y":0},
{"c":36,"x":0.0,"y":-6},{"c":36,"x":0.12,"y":0},{"c":36,"x":0.25,"y":20},{"c":36,"x":0.5,"y":47},{"c":36,"x":0.75,"y":63.5},{"c":36,"x":1.0,"y":68.3},{"c":36,"x":1.2,"y":67.6},{"c":36,"x":1.5,"y":66.1},{"c":36,"x":1.8,"y":64.6},{"c":36,"x":2.1,"y":63.1},{"c":36,"x":2.4,"y":62.1},{"c":36,"x":2.8,"y":62.6},{"c":36,"x":3.2,"y":62.8},{"c":36,"x":3.6,"y":61.8},{"c":36,"x":4.0,"y":62.7},{"c":36,"x":4.5,"y":62.5},{"c":36,"x":5,"y":62.9},{"c":36,"x":5.5,"y":62.6},{"c":36,"x":6,"y":62.9},{"c":36,"x":7,"y":62.7},{"c":36,"x":7.5,"y":63.1},{"c":36,"x":8,"y":62.6},{"c":36,"x":9,"y":62.8},{"c":36,"x":10,"y":62.5},{"c":36,"x":10.5,"y":63.1},{"c":36,"x":11,"y":62.6},{"c":36,"x":12,"y":62.9},{"c":36,"x":12.5,"y":62.5},{"c":36,"x":13,"y":62.8},{"c":36,"x":14,"y":62.9},{"c":36,"x":15,"y":62.6},{"c":36,"x":16,"y":63},{"c":36,"x":17,"y":62.7},{"c":36,"x":18,"y":62.9},{"c":36,"x":19,"y":62.6},{"c":36,"x":20,"y":62.9},{"c":36,"x":21,"y":62.6},{"c":36,"x":22,"y":63},{"c":36,"x":23,"y":62.7},{"c":36,"x":24,"y":62.9},{"c":36,"x":25,"y":62.5},{"c":36,"x":26,"y":62.8},{"c":36,"x":27,"y":62.6},{"c":36,"x":28,"y":62.9},{"c":36,"x":29,"y":62.6},{"c":36,"x":30,"y":62.6},{"c":36,"x":31,"y":62.8},{"c":36,"x":32,"y":62.9},{"c":36,"x":33,"y":62.7},{"c":36,"x":34,"y":63.1},{"c":36,"x":34.8,"y":62.2},{"c":36,"x":35.2,"y":63.2},{"c":36,"x":36,"y":63.4},{"c":36,"x":37,"y":63.8},{"c":36,"x":37.7,"y":64.1},{"c":36,"x":38.3,"y":65.3},{"c":36,"x":38.55,"y":67.8},{"c":36,"x":38.6,"y":50},{"c":36,"x":38.65,"y":20},{"c":36,"x":38.8,"y":5},{"c":36,"x":38.95,"y":-2.8},{"c":36,"x":39.05,"y":-1},{"c":36,"x":39.15,"y":0}
],
"arrows":[{"k":"v","x":13.3,"x2":13.3,"y":0,"y2":61.4},{"k":"h","x":38.45,"x2":28.67,"y":20.2,"y2":20.2}],
"notes":[{"x":8.9,"y":27.5,"txt":"Transmission\nincrease indicates\nNP size increase"},{"x":33.85,"y":27.5,"txt":"Growth in peak\nthickness indicates\nsedimentation"}],
"times":[{"t":0.011,"lab":"00d:00h:00m"},{"t":0.067,"lab":"00d:00h:20m"},{"t":0.140,"lab":"00d:00h:45m"},{"t":0.199,"lab":"00d:01h:03m"},{"t":0.273,"lab":"00d:01h:53m"},{"t":0.332,"lab":"00d:03h:43m"},{"t":0.405,"lab":"00d:06h:13m"},{"t":0.465,"lab":"00d:08h:13m"},{"t":0.539,"lab":"00d:10h:43m"},{"t":0.598,"lab":"00d:12h:43m"},{"t":0.671,"lab":"00d:15h:13m"},{"t":0.729,"lab":"00d:17h:13m"},{"t":0.803,"lab":"00d:19h:43m"},{"t":0.862,"lab":"00d:21h:43m"},{"t":0.936,"lab":"01d:00h:13m"},{"t":0.993,"lab":"01d:02h:13m"}],
"ends":[{"t":0.023,"lab":"t=0"},{"t":0.982,"lab":"t= 26 h"}]
},
"hconcat":[
{
"width":980,"height":564,
"resolve":{"axis":{"x":"independent","y":"independent"}},
"layer":[
{"data":{"name":"curves"},"transform":[{"filter":"datum.c > 0"}],
 "mark":{"type":"line","interpolate":"linear"},
 "encoding":{
  "x":{"field":"x","type":"quantitative","scale":{"domain":[-1,40.15],"nice":false,"zero":false},
   "axis":{"orient":"bottom","values":[0,1,2,3,4,5,6,7,8,9,10,11,12,13,14,15,16,17,18,19,20,21,22,23,24,25,26,27,28,29,30,31,32,33,34,35,36,37,38,39,40],"grid":true,"gridColor":"#d6d6d6","ticks":false,"labels":false,"domain":false,"title":null}},
  "y":{"field":"y","type":"quantitative","scale":{"domain":[-8,70.2],"nice":false,"zero":false},
   "axis":{"orient":"left","values":[-5,0,5,10,15,20,25,30,35,40,45,50,55,60,65,70],"grid":true,"gridColor":"#d6d6d6","ticks":false,"labels":false,"domain":false,"title":null}},
  "color":{"field":"c","type":"quantitative","scale":{"domain":[1,4,7,10,12,13,17,21,23,26,29,31,32,33,34,35,36],"range":["#2230c0","#2a56c0","#3478c8","#3a9ccc","#3eb4c8","#44c4c4","#4cd2c8","#54d6bc","#5ad4a0","#56cc78","#4cc848","#84d428","#b8dc10","#e2d400","#f0a400","#f06c00","#d82000"]},"legend":null},
  "detail":{"field":"c","type":"nominal"},
  "strokeWidth":{"condition":{"test":"datum.c == 36","value":2.2},"value":1.3}
 }},
{"data":{"name":"curves"},"transform":[{"filter":"datum.c == 0"}],
 "mark":{"type":"line","color":"#cc33ee","strokeWidth":2.5},
 "encoding":{
  "x":{"field":"x","type":"quantitative","axis":{"orient":"bottom","values":[0,2,4,6,8,10,12,14,16,18,20,22,24,26,28,30,32,34,36,38,40],"grid":false,"ticks":false,"tickSize":0,"domain":true,"domainColor":"#333","domainWidth":1.2,"labelPadding":9,"title":"Height (mm)","titleFontSize":11,"titleFontWeight":"bold","titlePadding":15}},
  "y":{"field":"y","type":"quantitative","axis":{"orient":"left","values":[-5,0,5,10,15,20,25,30,35,40,45,50,55,60,65,70],"grid":false,"ticks":true,"tickSize":6,"tickColor":"#333","domain":true,"domainColor":"#333","domainWidth":1.2,"labelPadding":3,"labelExpr":"datum.value % 10 === 0 ? datum.label : ''","title":"ΔT (%)","titleFontSize":11,"titleFontWeight":"bold","titlePadding":10}}
 }},
{"data":{"name":"arrows"},
 "mark":{"type":"rule","color":"#000","strokeWidth":4},
 "encoding":{
  "x":{"field":"x","type":"quantitative","axis":{"orient":"bottom","values":[0,2,4,6,8,10,12,14,16,18,20,22,24,26,28,30,32,34,36,38,40],"offset":-12,"tickSize":21,"ticks":true,"tickColor":"#333","tickWidth":1.2,"labels":false,"domain":false,"grid":false,"title":null}},
  "x2":{"field":"x2"},
  "y":{"field":"y","type":"quantitative","axis":null},
  "y2":{"field":"y2"}
 }},
{"data":{"name":"arrows"},"transform":[{"filter":"datum.k == 'v'"}],
 "mark":{"type":"point","shape":"triangle-up","filled":true,"size":170,"color":"#000","opacity":1},
 "encoding":{
  "x":{"field":"x","type":"quantitative","axis":{"orient":"bottom","values":[-0.5,0.5,1,1.5,2.5,3,3.5,4.5,5,5.5,6.5,7,7.5,8.5,9,9.5,10.5,11,11.5,12.5,13,13.5,14.5,15,15.5,16.5,17,17.5,18.5,19,19.5,20.5,21,21.5,22.5,23,23.5,24.5,25,25.5,26.5,27,27.5,28.5,29,29.5,30.5,31,31.5,32.5,33,33.5,34.5,35,35.5,36.5,37,37.5,38.5,39,39.5],"offset":-7,"tickSize":14,"ticks":true,"tickColor":"#333","tickWidth":1,"labels":false,"domain":false,"grid":false,"title":null}},
  "y":{"field":"y2","type":"quantitative","axis":null}
 }},
{"data":{"name":"arrows"},"transform":[{"filter":"datum.k == 'h'"}],
 "mark":{"type":"point","shape":"triangle-left","filled":true,"size":170,"color":"#000","opacity":1},
 "encoding":{
  "x":{"field":"x2","type":"quantitative","axis":null},
  "y":{"field":"y","type":"quantitative","axis":null}
 }},
{"data":{"name":"notes"},
 "mark":{"type":"text","font":"Lato","fontSize":25,"lineHeight":33,"lineBreak":"\n","align":"center","baseline":"middle","color":"#111"},
 "encoding":{
  "x":{"field":"x","type":"quantitative","axis":null},
  "y":{"field":"y","type":"quantitative","axis":null},
  "text":{"field":"txt"}
 }}
]
},
{
"width":200,"height":564,
"view":{"stroke":null},
"layer":[
{"data":{"values":[{"a":0,"b":1}]},
 "mark":{"type":"rect","color":{"gradient":"linear","x1":0,"y1":0,"x2":0,"y2":1,"stops":[{"offset":0,"color":"#1212e0"},{"offset":0.07,"color":"#1638e8"},{"offset":0.14,"color":"#2468ee"},{"offset":0.2,"color":"#2a9cf2"},{"offset":0.27,"color":"#00f0ff"},{"offset":0.33,"color":"#00ffc8"},{"offset":0.4,"color":"#00ff84"},{"offset":0.47,"color":"#10f840"},{"offset":0.54,"color":"#22f022"},{"offset":0.6,"color":"#58f010"},{"offset":0.67,"color":"#a8f400"},{"offset":0.73,"color":"#f4f400"},{"offset":0.8,"color":"#ffc000"},{"offset":0.87,"color":"#ff8800"},{"offset":0.93,"color":"#ff4c00"},{"offset":1,"color":"#ff0a0a"}]}},
 "encoding":{
  "x":{"datum":33.5,"type":"quantitative","scale":{"domain":[0,100],"nice":false,"zero":false},"axis":null},
  "x2":{"datum":41.5},
  "y":{"field":"a","type":"quantitative","scale":{"domain":[0,1],"reverse":true,"nice":false,"zero":false},"axis":null},
  "y2":{"field":"b"}
 }},
{"data":{"name":"times"},
 "mark":{"type":"text","align":"left","baseline":"middle","font":"Liberation Sans, Arial, sans-serif","fontSize":9.5,"color":"#333"},
 "encoding":{
  "x":{"datum":2,"type":"quantitative"},
  "y":{"field":"t","type":"quantitative"},
  "text":{"field":"lab"}
 }},
{"data":{"values":[{"a":0.005,"b":0.975}]},
 "mark":{"type":"rule","color":"#000","strokeWidth":4},
 "encoding":{
  "x":{"datum":51,"type":"quantitative"},
  "y":{"field":"a","type":"quantitative"},
  "y2":{"field":"b"}
 }},
{"data":{"values":[{"b":0.983}]},
 "mark":{"type":"point","shape":"triangle-down","filled":true,"size":170,"color":"#000","opacity":1},
 "encoding":{
  "x":{"datum":51,"type":"quantitative"},
  "y":{"field":"b","type":"quantitative"}
 }},
{"data":{"name":"ends"},
 "mark":{"type":"text","align":"left","baseline":"middle","font":"Lato","fontSize":22,"color":"#222"},
 "encoding":{
  "x":{"datum":55,"type":"quantitative"},
  "y":{"field":"t","type":"quantitative"},
  "text":{"field":"lab"}
 }}
]
}
]
}
